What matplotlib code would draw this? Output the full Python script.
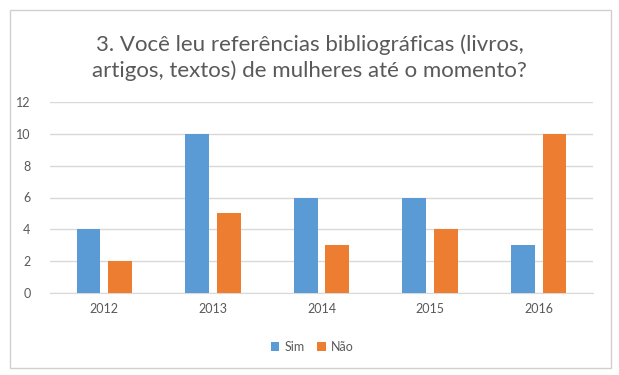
import matplotlib
matplotlib.use("Agg")
import matplotlib.pyplot as plt
from matplotlib.patches import Rectangle
import numpy as np

plt.rcParams['font.family'] = ['Lato', 'DejaVu Sans']

years = ["2012", "2013", "2014", "2015", "2016"]
sim = [4, 10, 6, 6, 3]
nao = [2, 5, 3, 4, 10]
yticks = [0, 2, 4, 6, 8, 10, 12]
title = "3. Você leu referências bibliográficas (livros,\nartigos, textos) de mulheres até o momento?"

blue = "#5B9BD5"
orange = "#ED7D31"
grey = "#595959"

fig = plt.figure(figsize=(6.19, 3.75), dpi=100)
fig.patch.set_facecolor("white")
fig.patches.append(Rectangle((10/619, 1-368/375), 601/619, 358/375, transform=fig.transFigure,
                             fill=False, edgecolor="#D0D0D0", linewidth=1.0))

ax = fig.add_axes([50/619, 1-293/375, 543/619, 191/375])
x = np.arange(len(years))
w = 0.22
off = 0.145
ax.bar(x - off, sim, w, color=blue, label="Sim", zorder=3)
ax.bar(x + off, nao, w, color=orange, label="Não", zorder=3)

ax.set_xlim(-0.5, len(years) - 0.5)
ax.set_ylim(0, 12)
ax.set_yticks(yticks)
ax.set_yticklabels([str(v) for v in yticks])
ax.set_xticks(x)
ax.set_xticklabels(years)
ax.grid(axis="y", color="#D9D9D9", linewidth=1.0, zorder=0)
for s in ["top", "right", "left"]:
    ax.spines[s].set_visible(False)
ax.spines["bottom"].set_color("#D9D9D9")
ax.tick_params(axis="both", length=0, colors=grey, labelsize=9)
ax.tick_params(axis="y", pad=14)
ax.tick_params(axis="x", pad=7)

fig.text(0.5, 1-58/375, title, ha="center", va="center", fontsize=16, color=grey, linespacing=1.35)

fig.legend(loc="center", bbox_to_anchor=(312/619, 1-347/375), ncol=2, frameon=False,
           fontsize=9, labelcolor=grey, handlelength=0.7, handleheight=0.7,
           handletextpad=0.4, columnspacing=1.0)

fig.savefig("out.png", dpi=100)
